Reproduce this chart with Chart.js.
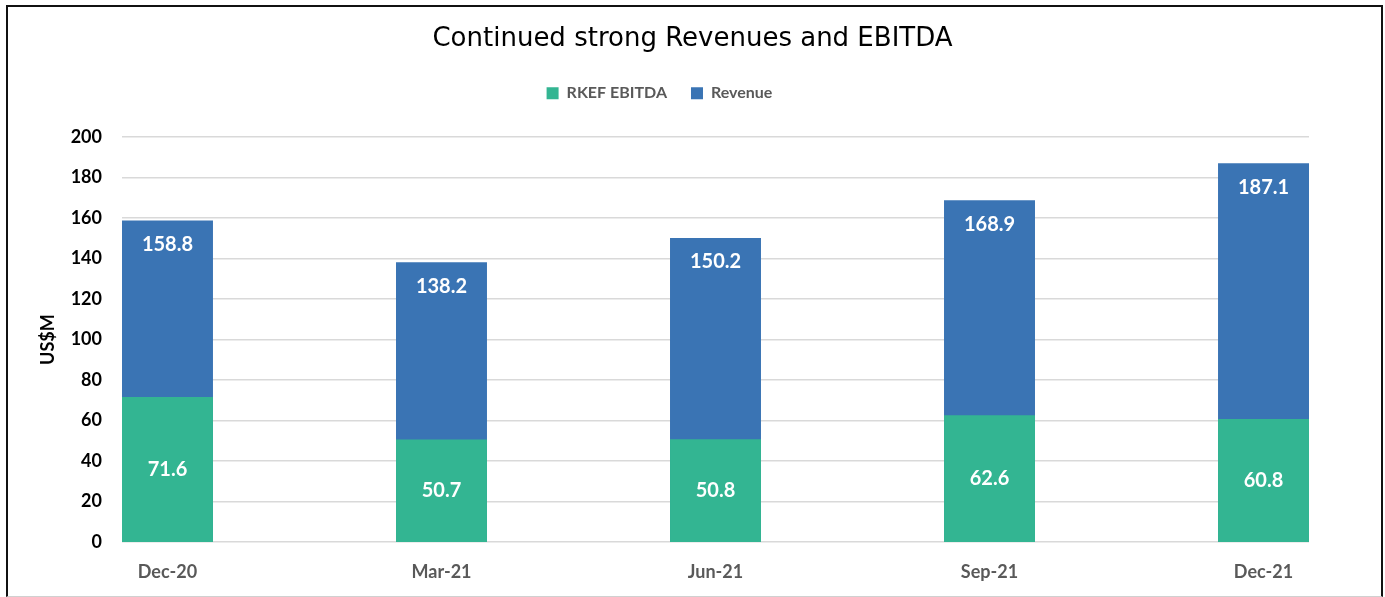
<!DOCTYPE html>
<html>
<head>
<meta charset="utf-8">
<script src="https://cdn.jsdelivr.net/npm/chart.js@4.4.1/dist/chart.umd.min.js"></script>
<style>
  html, body { margin: 0; padding: 0; background: #fff; }
  #wrap { position: relative; width: 1385px; height: 597px; }
  #frame {
    position: absolute; left: 6px; top: 5px; width: 1373px; height: 589px;
    border-left: 2px solid #111; border-top: 2px solid #111; border-right: 2px solid #111;
    border-bottom: 1px solid #d0d0d0; pointer-events: none;
  }
</style>
</head>
<body>
<div id="wrap">
  <canvas id="chart"></canvas>
  <div id="frame"></div>
</div>
<script>
const quarters = ['Dec-20', 'Mar-21', 'Jun-21', 'Sep-21', 'Dec-21'];
const ebitda = [71.6, 50.7, 50.8, 62.6, 60.8];
const revenue = [158.8, 138.2, 150.2, 168.9, 187.1];
const yTicks = [0, 20, 40, 60, 80, 100, 120, 140, 160, 180, 200];

const GREEN = '#33b592';
const BLUE = '#3a74b4';
const FONT = 'Lato, "Open Sans", sans-serif';

// white value labels inside the bars
const barLabels = {
  id: 'barLabels',
  afterDatasetsDraw(chart) {
    const ctx = chart.ctx;
    ctx.save();
    ctx.fillStyle = '#ffffff';
    ctx.font = 'bold 20px ' + FONT;
    ctx.textAlign = 'center';
    ctx.textBaseline = 'middle';
    chart.data.datasets.forEach((ds, i) => {
      const meta = chart.getDatasetMeta(i);
      meta.data.forEach((bar, j) => {
        const v = ds.data[j].y;
        const y = ds.label === 'Revenue' ? bar.y + 24 : (bar.y + bar.base) / 2;
        ctx.fillText(v.toFixed(1), bar.x, y);
      });
    });
    ctx.restore();
  }
};

// the legend sits a bit left of the title in the original
const legendShift = {
  id: 'legendShift',
  afterLayout(chart) {
    chart.legend.left -= 33;
    chart.legend.right -= 33;
  }
};

// empty axes used only as spacers (gap under legend, right margin)
const spacer = (pos, size) => ({
  type: 'linear',
  position: pos,
  display: true,
  grid: { display: false, drawTicks: false },
  border: { display: false },
  ticks: { display: false },
  afterFit(scale) {
    if (pos === 'top') scale.height = size; else scale.width = size;
  }
});

new Chart(document.getElementById('chart'), {
  type: 'bar',
  data: {
    datasets: [
      {
        label: 'RKEF EBITDA',
        data: ebitda.map((v, i) => ({ x: i, y: v })),
        backgroundColor: GREEN,
        grouped: false,
        barPercentage: 1,
        categoryPercentage: 0.332
      },
      {
        label: 'Revenue',
        data: revenue.map((v, i) => ({ x: i, y: v })),
        backgroundColor: BLUE,
        grouped: false,
        barPercentage: 1,
        categoryPercentage: 0.332
      }
    ]
  },
  options: {
    responsive: true,
    maintainAspectRatio: false,
    animation: false,
    layout: { padding: { left: 33, right: 33, top: 0, bottom: 14 } },
    plugins: {
      title: {
        display: true,
        text: 'Continued strong Revenues and EBITDA',
        color: '#000',
        font: { family: '"DejaVu Sans", sans-serif', size: 26, weight: 'normal' },
        padding: { top: 24, bottom: 6 }
      },
      legend: {
        display: true,
        labels: {
          color: '#595959',
          font: { family: FONT, size: 16, weight: 'bold' },
          boxWidth: 12,
          boxHeight: 12,
          padding: 24
        }
      },
      tooltip: { enabled: false }
    },
    scales: {
      x: {
        type: 'linear',
        offset: false,
        min: -0.166,
        max: 4.166,
        afterBuildTicks(scale) {
          scale.ticks = quarters.map((q, i) => ({ value: i }));
        },
        afterFit(scale) { scale.height = 41; },
        ticks: {
          color: '#595959',
          font: { family: FONT, size: 18, weight: 'bold' },
          padding: 19,
          maxRotation: 0,
          callback: (v) => quarters[v]
        },
        grid: { display: false, drawTicks: false },
        border: { display: false }
      },
      xTop: spacer('top', 26),
      yRight: spacer('right', 43),
      y: {
        min: 0,
        max: 200,
        afterBuildTicks(scale) {
          scale.ticks = yTicks.map(v => ({ value: v }));
        },
        afterFit(scale) { scale.width = 89; },
        ticks: {
          color: '#000',
          font: { family: FONT, size: 18, weight: 'bold' },
          padding: 20
        },
        grid: { color: '#d9d9d9', lineWidth: 1.5, drawTicks: false },
        border: { display: false },
        title: {
          display: true,
          text: 'US$M',
          color: '#000',
          font: { family: FONT, size: 18, weight: 'bold' }
        }
      }
    }
  },
  plugins: [barLabels, legendShift]
});
</script>
</body>
</html>
